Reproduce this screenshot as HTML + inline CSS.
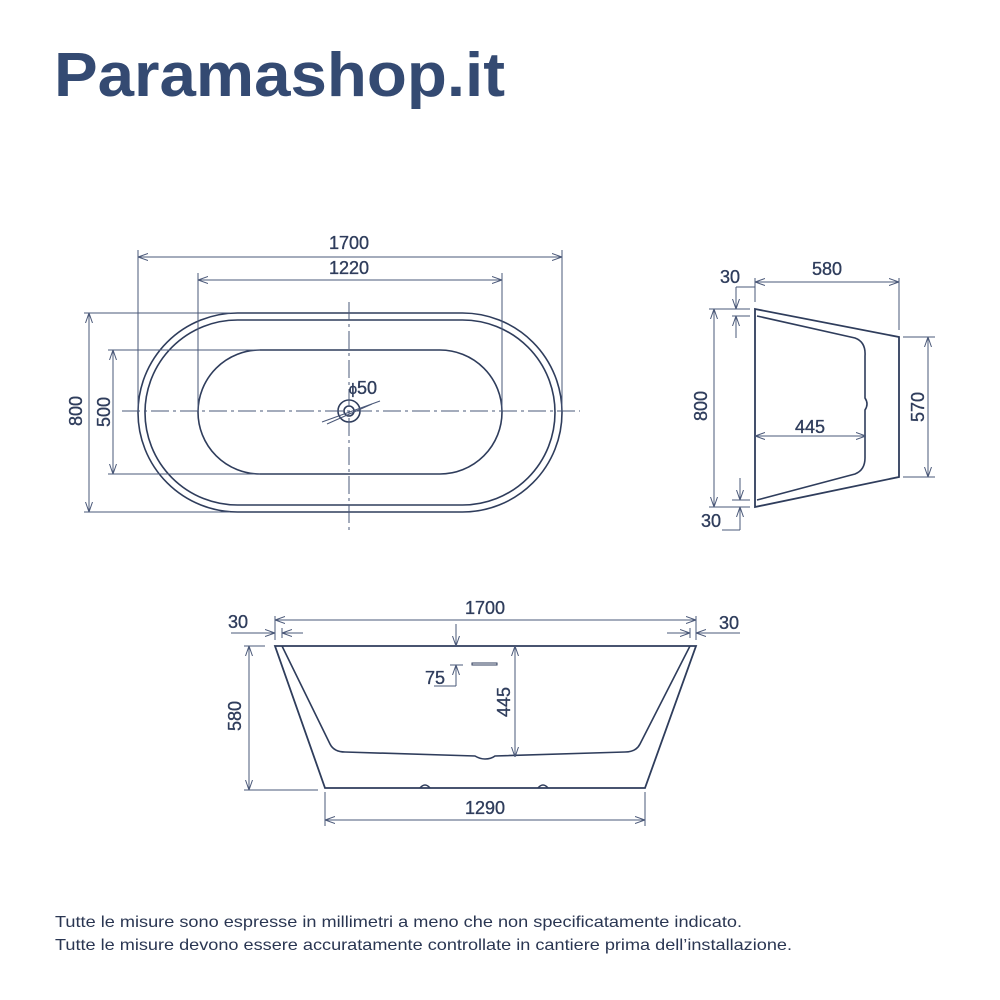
<!DOCTYPE html>
<html><head><meta charset="utf-8"><style>
html,body{margin:0;padding:0;background:#fff;}
svg{display:block;}
text{font-family:"Liberation Sans",sans-serif;}
</style></head><body>
<svg width="1000" height="1000" viewBox="0 0 1000 1000" xmlns="http://www.w3.org/2000/svg">
<defs>
<marker id="a" viewBox="0 0 10 10" refX="10" refY="5" markerWidth="10" markerHeight="10" orient="auto-start-reverse" markerUnits="userSpaceOnUse">
<path d="M0,1.5 L10,5 L0,8.5" fill="none" stroke="#4a5878" stroke-width="1"/>
</marker>
</defs>
<text x="54" y="96" font-size="62" font-weight="bold" fill="#344a72" textLength="451" lengthAdjust="spacingAndGlyphs">Paramashop.it</text>

<g fill="none" stroke="#2f3d5c" stroke-width="1.6">
<rect x="138" y="313" width="424" height="199" rx="99.5" ry="99.5"/>
<rect x="145" y="320" width="410" height="185" rx="92.5" ry="92.5"/>
<rect x="198" y="350" width="304" height="124" rx="62" ry="62"/>
<circle cx="349" cy="411" r="11"/>
<circle cx="349" cy="411" r="5"/>
<path d="M755,309 L899,337 L899,477 L755,507 Z" stroke-width="1.8"/>
<path d="M757,316 L855,338 Q866,342 865,356 L865,398 Q869,404 865,410 L865,458 Q865,470 855,474 L757,500"/>
<path d="M275,646 L696,646 L645,788 L325,788 Z" stroke-width="1.8"/>
<path d="M282,646 L330,744 Q334,752 345,752 L475,756 Q480,759 485,759 Q491,759 495,756 L625,752 Q636,752 640,744 L690,646"/>
<path d="M420,788 Q425,782 430,788 M538,788 Q543,782 548,788"/>
<rect x="472" y="663" width="25" height="2" stroke-width="1"/>
</g>

<g fill="none" stroke="#4a5878" stroke-width="1">
<line x1="122" y1="411" x2="580" y2="411" stroke-dasharray="18,4,3,4"/>
<line x1="349" y1="302" x2="349" y2="532" stroke-dasharray="18,4,3,4"/>
<line x1="322" y1="422" x2="380" y2="401"/>
<line x1="327" y1="424" x2="372" y2="404"/>
<line x1="138" y1="250" x2="138" y2="411"/><line x1="562" y1="250" x2="562" y2="411"/>
<line x1="138" y1="257" x2="562" y2="257" marker-start="url(#a)" marker-end="url(#a)"/>
<line x1="198" y1="273" x2="198" y2="411"/><line x1="502" y1="273" x2="502" y2="411"/>
<line x1="198" y1="280" x2="502" y2="280" marker-start="url(#a)" marker-end="url(#a)"/>
<line x1="84" y1="313" x2="230" y2="313"/><line x1="84" y1="512" x2="230" y2="512"/>
<line x1="89" y1="313" x2="89" y2="512" marker-start="url(#a)" marker-end="url(#a)"/>
<line x1="108" y1="350" x2="260" y2="350"/><line x1="108" y1="474" x2="260" y2="474"/>
<line x1="113" y1="350" x2="113" y2="474" marker-start="url(#a)" marker-end="url(#a)"/>
<line x1="755" y1="278" x2="755" y2="302"/><line x1="899" y1="278" x2="899" y2="330"/>
<line x1="755" y1="282" x2="899" y2="282" marker-start="url(#a)" marker-end="url(#a)"/>
<line x1="736" y1="287" x2="755" y2="287"/>
<line x1="736" y1="287" x2="736" y2="309" marker-end="url(#a)"/>
<line x1="736" y1="338" x2="736" y2="316" marker-end="url(#a)"/>
<line x1="709" y1="309" x2="750" y2="309"/><line x1="732" y1="316" x2="750" y2="316"/>
<line x1="714" y1="309" x2="714" y2="507" marker-start="url(#a)" marker-end="url(#a)"/>
<line x1="709" y1="507" x2="750" y2="507"/><line x1="732" y1="500" x2="750" y2="500"/>
<line x1="740" y1="478" x2="740" y2="500" marker-end="url(#a)"/>
<line x1="740" y1="530" x2="740" y2="507" marker-end="url(#a)"/>
<line x1="722" y1="530" x2="740" y2="530"/>
<line x1="903" y1="337" x2="935" y2="337"/><line x1="903" y1="477" x2="935" y2="477"/>
<line x1="928" y1="337" x2="928" y2="477" marker-start="url(#a)" marker-end="url(#a)"/>
<line x1="755" y1="436" x2="866" y2="436" marker-start="url(#a)" marker-end="url(#a)"/>
<line x1="275" y1="616" x2="275" y2="640"/><line x1="696" y1="616" x2="696" y2="640"/>
<line x1="275" y1="620" x2="696" y2="620" marker-start="url(#a)" marker-end="url(#a)"/>
<line x1="282" y1="628" x2="282" y2="638"/><line x1="690" y1="628" x2="690" y2="638"/>
<line x1="231" y1="633" x2="275" y2="633" marker-end="url(#a)"/>
<line x1="303" y1="633" x2="282" y2="633" marker-end="url(#a)"/>
<line x1="740" y1="633" x2="696" y2="633" marker-end="url(#a)"/>
<line x1="667" y1="633" x2="690" y2="633" marker-end="url(#a)"/>
<line x1="244" y1="646" x2="265" y2="646"/><line x1="244" y1="790" x2="318" y2="790"/>
<line x1="249" y1="646" x2="249" y2="790" marker-start="url(#a)" marker-end="url(#a)"/>
<line x1="515" y1="646" x2="515" y2="757" marker-start="url(#a)" marker-end="url(#a)"/>
<line x1="456" y1="624" x2="456" y2="646" marker-end="url(#a)"/>
<line x1="456" y1="686" x2="456" y2="665" marker-end="url(#a)"/>
<line x1="450" y1="665" x2="463" y2="665"/>
<line x1="434" y1="686" x2="456" y2="686"/>
<line x1="325" y1="792" x2="325" y2="826"/><line x1="645" y1="792" x2="645" y2="826"/>
<line x1="325" y1="820" x2="645" y2="820" marker-start="url(#a)" marker-end="url(#a)"/>
</g>

<g fill="#2f3d5c" stroke="#2f3d5c" stroke-width="0.35" font-size="18" text-anchor="middle">
<text x="349" y="249">1700</text>
<text x="349" y="274">1220</text>
<text transform="translate(82,411) rotate(-90)">800</text>
<text transform="translate(110,412) rotate(-90)">500</text>
<text x="367" y="394">50</text>
<text x="353" y="394" font-size="15">ϕ</text>
<text x="827" y="275">580</text>
<text x="730" y="283">30</text>
<text x="711" y="527">30</text>
<text transform="translate(707,406) rotate(-90)">800</text>
<text transform="translate(924,407) rotate(-90)">570</text>
<text x="810" y="433">445</text>
<text x="485" y="614">1700</text>
<text x="238" y="628">30</text>
<text x="729" y="629">30</text>
<text transform="translate(241,716) rotate(-90)">580</text>
<text transform="translate(510,702) rotate(-90)">445</text>
<text x="435" y="684">75</text>
<text x="485" y="814">1290</text>
</g>

<g fill="#2a3652" font-size="16">
<text x="55" y="927" textLength="687" lengthAdjust="spacingAndGlyphs">Tutte le misure sono espresse in millimetri a meno che non specificatamente indicato.</text>
<text x="55" y="950" textLength="737" lengthAdjust="spacingAndGlyphs">Tutte le misure devono essere accuratamente controllate in cantiere prima dell’installazione.</text>
</g>
</svg>
</body></html>
